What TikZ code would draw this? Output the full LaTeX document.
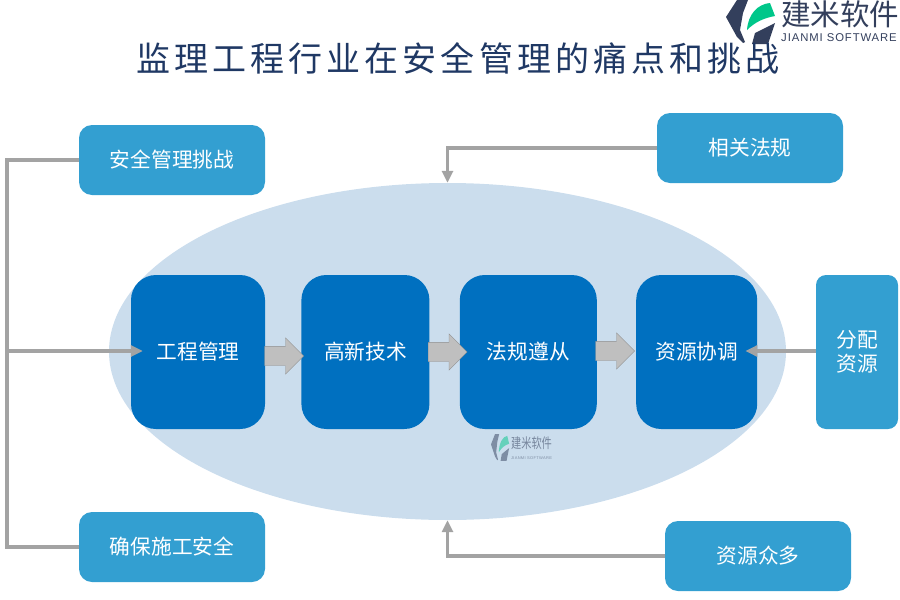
\documentclass[tikz,border=0pt]{standalone}
\usepackage{fontspec}
\setmainfont{Noto Sans CJK SC}
\newfontfamily\titlefont[LetterSpace=12]{Noto Sans CJK SC}
\newfontfamily\logofont[LetterSpace=8]{Liberation Sans}
\usetikzlibrary{arrows.meta, positioning, shapes.arrows, shapes.geometric}
\definecolor{corebox}{RGB}{0,112,192}
\definecolor{sidebox}{RGB}{51,159,209}
\definecolor{haze}{RGB}{203,221,237}
\definecolor{railgray}{RGB}{163,163,163}
\definecolor{blockgray}{RGB}{191,191,191}
\definecolor{titleink}{RGB}{31,56,100}
\definecolor{logoink}{RGB}{51,63,92}
\definecolor{logoleaf}{RGB}{0,199,138}

\begin{document}
\begin{tikzpicture}[
		x=1pt, y=-1pt,
		core/.style={fill=corebox, text=white, rounded corners=25pt, minimum height=154pt,
			inner sep=0pt, font=\fontsize{20.7}{24}\selectfont},
		side/.style={fill=sidebox, text=white, rounded corners=13pt, minimum width=186pt,
			minimum height=70pt, inner sep=0pt, align=center, font=\fontsize{20.7}{24}\selectfont},
		rail/.style={draw=railgray, line width=3.5pt},
		tip/.style={rail, -{Triangle[length=12pt, width=11pt]}},
		block/.style={single arrow, draw=black!25!blockgray, fill=blockgray, minimum width=36pt,
			minimum height=39pt, single arrow head extend=8.5pt, inner sep=0pt,
			single arrow head indent=0pt, anchor=tail},
		logomark/.pic={
			\fill[logoink] (11,0) -- (22,0) -- (17,13) -- (14,30) -- (19,42) -- (17,43) -- (11,37) -- (0,17) -- cycle;
			\fill[logoink] (26,44) -- (29,33) -- (49,23) -- (42,44) -- cycle;
			\fill[logoleaf] (21,30) .. controls (22,14) and (32,4) .. (44,3)
				-- (49,16) .. controls (38,18) and (29,22) .. (21,30) -- cycle;
		}
	]
		\useasboundingbox (0,0) rectangle (900,600);
		\pic at (726,0) {logomark};
		\node[inner sep=0pt, text=logoink, font=\fontsize{29.5}{32}\selectfont] (brand) at (840,14) {建米软件};
		\node[inner sep=0pt, text=logoink, font=\logofont\fontsize{11.3}{13}\selectfont] (brandsub) at (839,38) {JIANMI SOFTWARE};
		\node[inner sep=0pt, text=titleink, font=\titlefont\fontsize{34}{37}\selectfont] (title) at (458,58) {监理工程行业在安全管理的痛点和挑战};

		\node[ellipse, fill=haze, minimum width=677pt, minimum height=337pt, inner sep=0pt] (haze) at (447.5,351.5) {};

		\node[core, minimum width=134pt] (gongcheng) at (198,352) {工程管理};
		\node[core, minimum width=128pt, right=36pt of gongcheng] (gaoxin) {高新技术};
		\node[core, minimum width=137pt, right=30pt of gaoxin] (fagui) {法规遵从};
		\node[core, minimum width=121pt, right=39pt of fagui] (xietiao) {资源协调};

		\node[side] (anquan) at (172,160) {安全管理挑战};
		\node[side] (queren) at (172,547) {确保施工安全};
		\node[side] (fagi) at (750,148) {相关法规};
		\node[side] (zhongduo) at (758,556) {资源众多};
		\node[side, minimum width=82pt, minimum height=154pt, rounded corners=10pt] (fenpei) at (857,352) {分配\\资源};

		\coordinate (railmid) at (7,351);
		\draw[rail] (anquan.west) -| (railmid) |- (queren.west);
		\draw[tip, shorten >=-12pt] (railmid) -- (gongcheng.west |- railmid);
		\draw[tip, shorten >=-12pt] (fenpei.west |- railmid) -- (xietiao.east |- railmid);
		\draw[tip] (fagi.west) -| (haze.north);
		\draw[tip] (zhongduo.west) -| (haze.south);

		\node[block] (stepa) at (264.5,356) {\rule{0pt}{19pt}};
		\node[block] (stepb) at (428,352) {\rule{0pt}{19pt}};
		\node[block] (stepc) at (595.5,351) {\rule{0pt}{19pt}};

		\begin{scope}[opacity=0.5]
			\pic[xscale=0.37, yscale=0.61] at (491,434) {logomark};
		\end{scope}
		\node[inner sep=0pt, text=logoink!55!haze, font=\fontsize{14}{16}\selectfont] (mark) at (531.5,443) {\scalebox{0.73}[1]{建米软件}};
		\node[inner sep=0pt, text=logoink!50!haze, font=\logofont\fontsize{4}{5}\selectfont] (marksub) at (531.5,458) {JIANMI SOFTWARE};
	\end{tikzpicture}
\end{document}
